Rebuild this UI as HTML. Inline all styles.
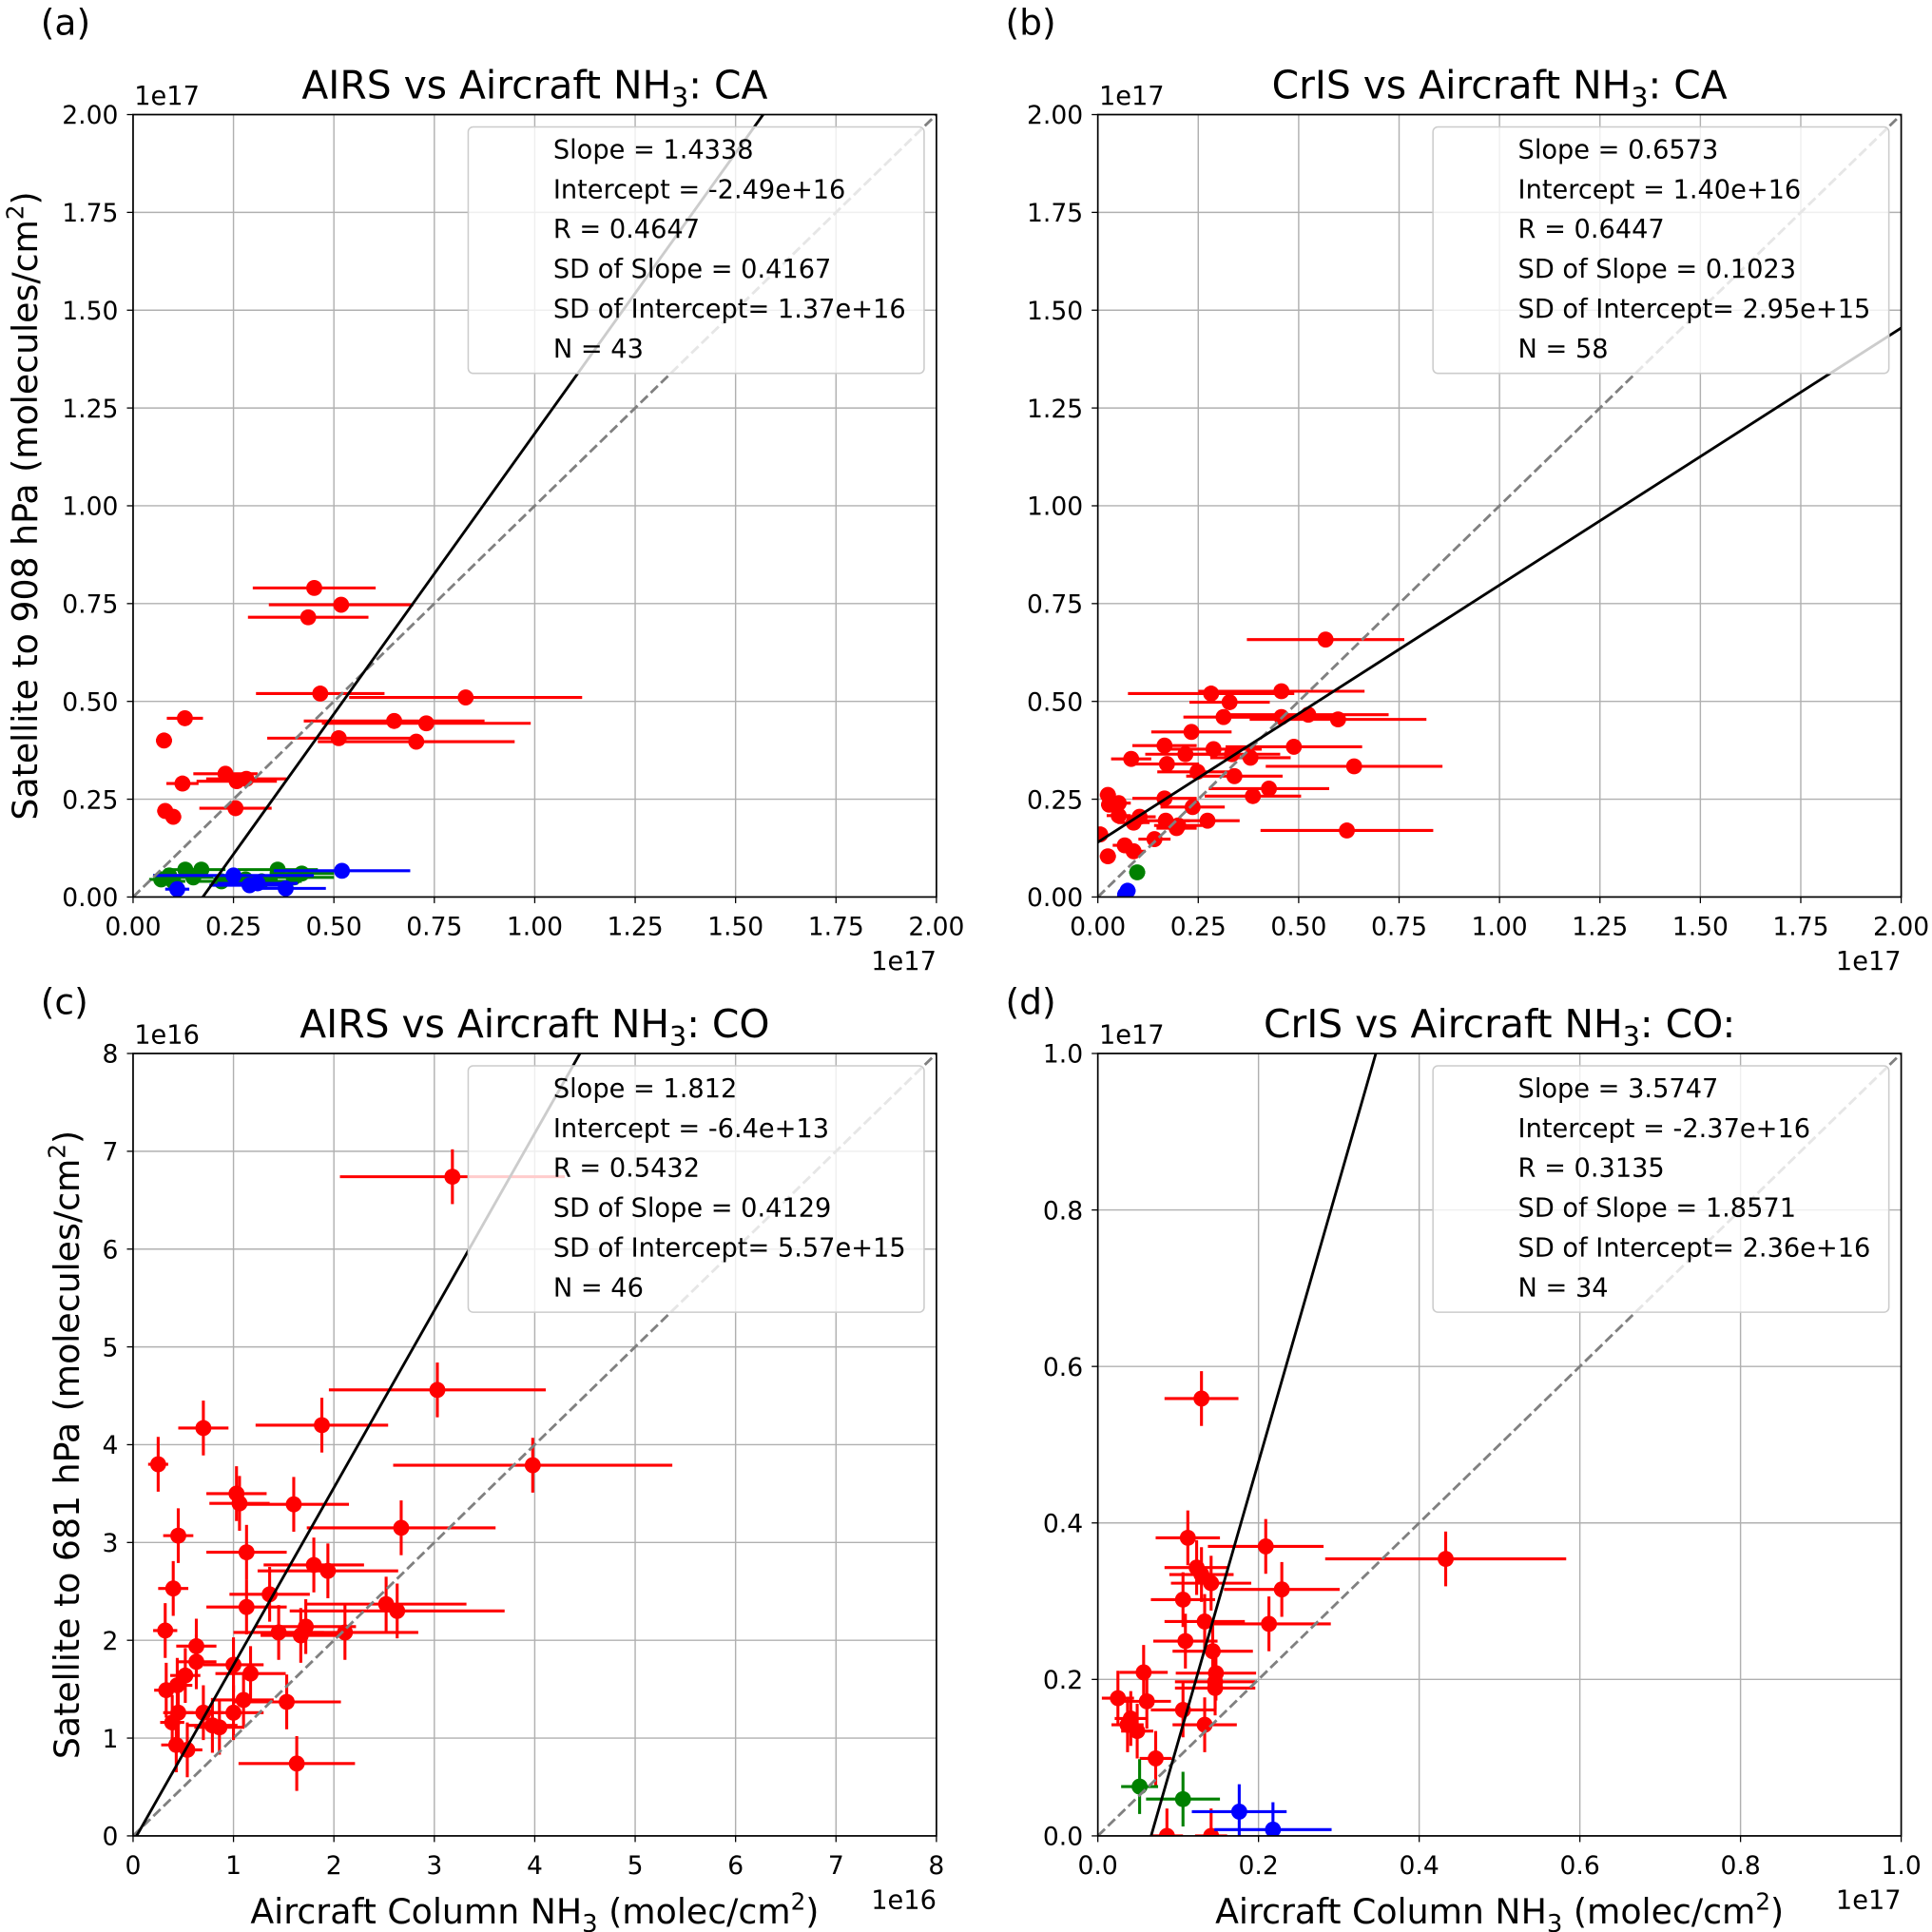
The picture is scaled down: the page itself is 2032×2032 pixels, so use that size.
<!DOCTYPE html>
<html><head><meta charset="utf-8"><style>
html,body{margin:0;padding:0;background:#fff}
svg{display:block;font-family:"DejaVu Sans","Liberation Sans",sans-serif}
</style></head><body>
<svg id="fig" xmlns="http://www.w3.org/2000/svg" width="2032" height="2032" viewBox="0 0 1568 1568"></svg>
<script>
// ---- Panel (a) AIRS CA ----
const aRed=[[0.451,0.79,0.153],[0.518,0.747,0.18],[0.436,0.715,0.15],[0.466,0.52,0.16],[0.828,0.51,0.29],[0.65,0.45,0.225],[0.73,0.444,0.26],[0.512,0.406,0.178],[0.705,0.397,0.245],[0.129,0.457,0.045],[0.077,0.40,0.02],[0.123,0.29,0.04],[0.23,0.315,0.08],[0.258,0.296,0.1],[0.282,0.302,0.1],[0.255,0.227,0.09],[0.08,0.22,0.02],[0.10,0.205,0.02]];
const aGreen=[[0.07,0.045,0.03],[0.09,0.055,0.04],[0.13,0.07,0.05],[0.17,0.07,0.06],[0.36,0.07,0.1],[0.42,0.06,0.08],[0.32,0.04,0.1],[0.22,0.04,0.08],[0.40,0.05,0.1],[0.28,0.045,0.08],[0.10,0.04,0.03],[0.15,0.05,0.05]];
const aBlue=[[0.11,0.02,0.03],[0.25,0.055,0.2],[0.31,0.035,0.1],[0.38,0.022,0.1],[0.52,0.067,0.17],[0.29,0.03,0.1]];
// ---- Panel (b) CrIS CA ----
const bRed=[[0.567,0.658,0.196],[0.457,0.526,0.207],[0.282,0.52,0.207],[0.328,0.498,0.1],[0.313,0.46,0.1],[0.524,0.466,0.2],[0.598,0.454,0.22],[0.457,0.46,0.15],[0.488,0.384,0.17],[0.233,0.422,0.1],[0.166,0.387,0.08],[0.218,0.365,0.1],[0.288,0.378,0.12],[0.334,0.365,0.12],[0.38,0.356,0.1],[0.172,0.34,0.08],[0.083,0.353,0.05],[0.248,0.32,0.1],[0.34,0.309,0.12],[0.426,0.277,0.15],[0.638,0.334,0.22],[0.386,0.258,0.12],[0.166,0.252,0.08],[0.236,0.23,0.08],[0.273,0.195,0.08],[0.169,0.195,0.06],[0.2,0.183,0.06],[0.104,0.205,0.04],[0.052,0.208,0.03],[0.025,0.261,0.02],[0.028,0.236,0.02],[0.052,0.24,0.03],[0.006,0.16,0.02],[0.089,0.19,0.04],[0.62,0.17,0.215],[0.141,0.148,0.04],[0.067,0.132,0.03],[0.089,0.117,0.03],[0.025,0.104,0.02],[0.196,0.176,0.05]];
const bGreen=[[0.098,0.063,0.02]];
const bBlue=[[0.074,0.016,0.02],[0.068,0.006,0.02]];
// ---- Panel (c) AIRS CO ----
const cRed=[[3.18,6.74,1.12],[3.03,4.56,1.08],[3.98,3.79,1.39],[0.70,4.17,0.25],[1.88,4.2,0.66],[0.25,3.8,0.1],[1.03,3.5,0.3],[1.06,3.4,0.3],[1.6,3.39,0.55],[0.45,3.07,0.15],[2.67,3.15,0.94],[1.13,2.9,0.4],[1.8,2.77,0.5],[1.94,2.71,0.7],[0.40,2.53,0.15],[1.36,2.47,0.4],[2.52,2.37,0.8],[2.63,2.3,1.07],[1.13,2.34,0.4],[0.32,2.1,0.12],[1.45,2.08,0.45],[1.72,2.14,0.5],[2.11,2.08,0.73],[1.67,2.05,0.4],[0.63,1.94,0.2],[0.63,1.78,0.2],[1.0,1.75,0.3],[1.17,1.66,0.35],[0.33,1.49,0.12],[0.44,1.54,0.15],[0.52,1.64,0.15],[1.53,1.37,0.54],[0.7,1.26,0.2],[0.45,1.26,0.15],[1.0,1.26,0.3],[1.1,1.39,0.3],[0.39,1.16,0.12],[0.79,1.13,0.25],[0.86,1.11,0.25],[0.43,0.93,0.15],[0.54,0.88,0.15],[1.63,0.74,0.58]];
const cGreen=[];
const cBlue=[];
// ---- Panel (d) CrIS CO ----
const dRed=[[0.129,0.559,0.046],[0.433,0.354,0.15],[0.112,0.381,0.04],[0.209,0.37,0.072],[0.123,0.343,0.04],[0.229,0.315,0.072],[0.129,0.334,0.04],[0.141,0.323,0.05],[0.106,0.302,0.04],[0.133,0.274,0.05],[0.213,0.271,0.077],[0.109,0.249,0.04],[0.143,0.236,0.05],[0.147,0.208,0.05],[0.146,0.197,0.05],[0.146,0.189,0.05],[0.025,0.176,0.02],[0.057,0.209,0.03],[0.061,0.172,0.03],[0.106,0.161,0.04],[0.133,0.142,0.04],[0.041,0.15,0.02],[0.037,0.142,0.02],[0.049,0.134,0.02],[0.072,0.099,0.02],[0.086,0.0,0.02],[0.141,0.0,0.02]];
const dGreen=[[0.052,0.063,0.023],[0.106,0.047,0.046]];
const dBlue=[[0.176,0.031,0.059],[0.218,0.008,0.073]];
const tickA=["0.00","0.25","0.50","0.75","1.00","1.25","1.50","1.75","2.00"];
const tickC=["0","1","2","3","4","5","6","7","8"];
const tickD=["0.0","0.2","0.4","0.6","0.8","1.0"];
const slopes=[1.4338,0.6573,1.812,3.5747];
const intercepts=[-0.249,0.140,-0.0064,-0.237];
const statsA=["Slope = 1.4338","Intercept = -2.49e+16","R = 0.4647","SD of Slope = 0.4167","SD of Intercept= 1.37e+16","N = 43"];
const statsB=["Slope = 0.6573","Intercept = 1.40e+16","R = 0.6447","SD of Slope = 0.1023","SD of Intercept= 2.95e+15","N = 58"];
const statsC=["Slope = 1.812","Intercept = -6.4e+13","R = 0.5432","SD of Slope = 0.4129","SD of Intercept= 5.57e+15","N = 46"];
const statsD=["Slope = 3.5747","Intercept = -2.37e+16","R = 0.3135","SD of Slope = 1.8571","SD of Intercept= 2.36e+16","N = 34"];

const NS="http://www.w3.org/2000/svg";
const svg=document.getElementById('fig');
function mk(tag,attrs,parent,text){const e=document.createElementNS(NS,tag);for(const k in attrs)e.setAttribute(k,attrs[k]);if(text!==undefined)e.textContent=text;(parent||svg).appendChild(e);return e;}

function panel(o){
  const g=mk('g',{});
  
  
  const L=o.x0,T=o.y0,W=652,H=635,max=o.max,vert=o.vert;
  const sx=v=>L+v/max*W, sy=v=>T+H-v/max*H;
  const cid='clip'+o.id;
  const cp=mk('clipPath',{id:cid},g);mk('rect',{x:L,y:T,width:W,height:H},cp);
  const grid=mk('g',{},g);
  
  
  o.ticks.forEach((t,i)=>{
    const v=i*max/(o.ticks.length-1);
    mk('line',{x1:sx(v),x2:sx(v),y1:T,y2:T+H,stroke:'#b0b0b0','stroke-width':1.1},grid);
    mk('line',{x1:L,x2:L+W,y1:sy(v),y2:sy(v),stroke:'#b0b0b0','stroke-width':1.1},grid);
    mk('line',{x1:sx(v),x2:sx(v),y1:T+H,y2:T+H+5,stroke:'#000','stroke-width':1},grid);
    mk('line',{x1:L-5,x2:L,y1:sy(v),y2:sy(v),stroke:'#000','stroke-width':1},grid);
    const xt=mk('text',{x:sx(v),y:T+H+31,'font-size':20.5,'text-anchor':'middle'},g,t);
    
    
    const yt=mk('text',{x:L-12,y:sy(v)+7.5,'font-size':20.5,'text-anchor':'end'},g,t);
    
    
  });
  const data=mk('g',{'clip-path':'url(#'+cid+')'},g);
  function series(arr,col,nm){
    const sg=mk('g',{},data);
    
    
    arr.forEach(p=>{
      mk('line',{x1:sx(p[0]-p[2]),x2:sx(p[0]+p[2]),y1:sy(p[1]),y2:sy(p[1]),stroke:col,'stroke-width':2.4},sg);
      if(vert) mk('line',{x1:sx(p[0]),x2:sx(p[0]),y1:sy(p[1]-vert),y2:sy(p[1]+vert),stroke:col,'stroke-width':2.4},sg);
    });
    arr.forEach(p=>{
      const c=mk('circle',{cx:sx(p[0]),cy:sy(p[1]),r:6.5,fill:col},sg);
      
      
    });
  }
  series(o.red,'#ff0000','red-series');
  series(o.green,'#008000','green-series');
  series(o.blue,'#0000ff','blue-series');
  const one=mk('line',{x1:sx(0),y1:sy(0),x2:sx(max),y2:sy(max),stroke:'#808080','stroke-width':2.2,'stroke-dasharray':'8,3.5'},data);
  
  
  const m=o.slope,b=o.icpt*max/(o.unit);
  const fit=mk('line',{x1:sx(0),y1:sy(b),x2:sx(max),y2:sy(m*max+b),stroke:'#000','stroke-width':2.2},data);
  
  
  mk('rect',{x:L,y:T,width:W,height:H,fill:'none',stroke:'#000','stroke-width':1.3},g);
  const lg=mk('g',{},g);
  
  
  mk('rect',{x:L+272,y:T+10,width:370,height:200,rx:4,fill:'#fff','fill-opacity':0.8,stroke:'#cccccc','stroke-width':1.2},lg);
  o.stats.forEach((s,i)=>{mk('text',{x:L+341,y:T+35.5+i*32.3,'font-size':21},lg,s);});
  const ti=mk('text',{x:L+326,y:T-13,'font-size':31.5,'text-anchor':'middle'},g);
  
  
  ti.innerHTML=o.title[0]+'<tspan font-size="22" dy="7">3</tspan><tspan dy="-7">'+o.title[1]+'</tspan>';
  mk('text',{x:L+1,y:T-8,'font-size':21},g,o.off);
  mk('text',{x:L+W,y:T+H+59,'font-size':21,'text-anchor':'end'},g,o.off);
  const pl=mk('text',{x:L-75,y:T+o.labDy,'font-size':29},g,o.lab);
  
  
  if(o.ylab){
    const yl=mk('text',{transform:'translate('+o.ylabX+','+(T+H/2)+') rotate(-90)','font-size':28,'text-anchor':'middle'},g);
    
    
    yl.innerHTML=o.ylab+' (molecules/cm<tspan font-size="19" dy="-11">2</tspan><tspan dy="11">)</tspan>';
  }
  if(o.xlab){
    const xl=mk('text',{x:L+326,y:T+H+71,'font-size':28,'text-anchor':'middle'},g);
    
    
    xl.innerHTML='Aircraft Column NH<tspan font-size="20" dy="7">3</tspan><tspan dy="-7"> (molec/cm</tspan><tspan font-size="19" dy="-11">2</tspan><tspan dy="11">)</tspan>';
  }
}
panel({id:'a',name:'panel-a',x0:108,y0:93,max:2,ticks:tickA,red:aRed,green:aGreen,blue:aBlue,slope:slopes[0],icpt:intercepts[0],unit:2,stats:statsA,title:['AIRS vs Aircraft NH',': CA'],off:'1e17',lab:'(a)',labDy:-65,ylab:'Satellite to 908 hPa',ylabX:30});
panel({id:'b',name:'panel-b',x0:891,y0:93,max:2,ticks:tickA,red:bRed,green:bGreen,blue:bBlue,slope:slopes[1],icpt:intercepts[1],unit:2,stats:statsB,title:['CrIS vs Aircraft NH',': CA'],off:'1e17',lab:'(b)',labDy:-65});
panel({id:'c',name:'panel-c',x0:108,y0:855,max:8,ticks:tickC,red:cRed,green:cGreen,blue:cBlue,slope:slopes[2],icpt:intercepts[2]*10,unit:8,vert:0.28,stats:statsC,title:['AIRS vs Aircraft NH',': CO'],off:'1e16',lab:'(c)',labDy:-32,ylab:'Satellite to 681 hPa',ylabX:64,xlab:true});
panel({id:'d',name:'panel-d',x0:891,y0:855,max:1,ticks:tickD,red:dRed,green:dGreen,blue:dBlue,slope:slopes[3],icpt:intercepts[3],unit:1,vert:0.035,stats:statsD,title:['CrIS vs Aircraft NH',': CO:'],off:'1e17',lab:'(d)',labDy:-32,xlab:true});
</script>
</body></html>
